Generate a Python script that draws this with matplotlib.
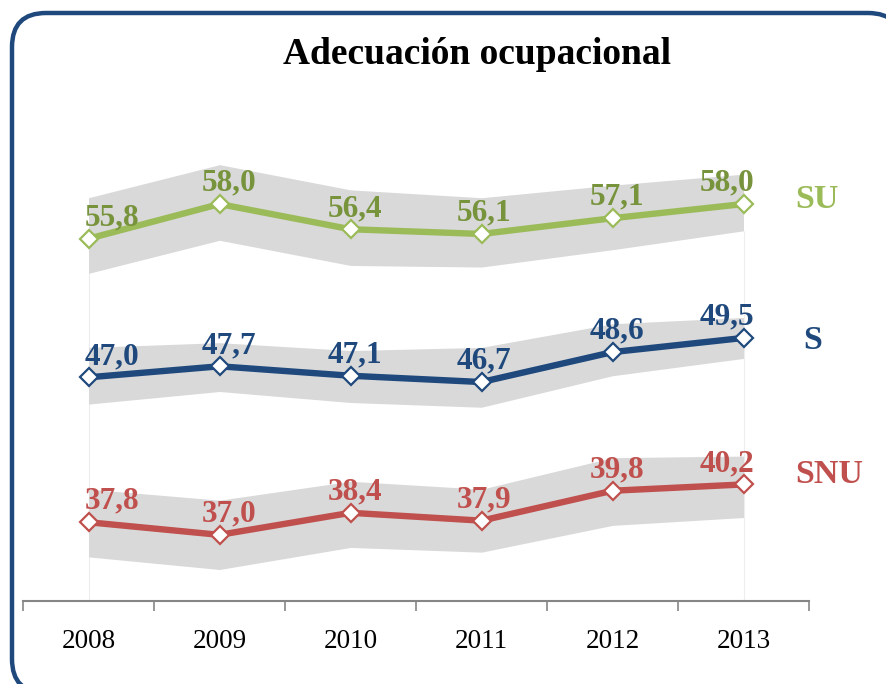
import matplotlib.pyplot as plt
from matplotlib.patches import FancyBboxPatch

years = ['2008', '2009', '2010', '2011', '2012', '2013']

su = [55.8, 58.0, 56.4, 56.1, 57.1, 58.0]
su_low = [53.6, 55.7, 54.1, 54.0, 55.1, 56.3]
su_high = [58.4, 60.5, 58.9, 58.4, 59.2, 59.9]

s = [47.0, 47.7, 47.1, 46.7, 48.6, 49.5]
s_low = [45.3, 46.1, 45.4, 45.1, 47.1, 48.2]
s_high = [48.9, 49.2, 48.7, 48.9, 50.4, 50.8]

snu = [37.8, 37.0, 38.4, 37.9, 39.8, 40.2]
snu_low = [35.6, 34.8, 36.2, 35.9, 37.6, 38.1]
snu_high = [39.9, 39.2, 40.4, 39.9, 41.9, 42.0]

names = ['SU', 'S', 'SNU']

plt.rcParams['font.family'] = ['Liberation Serif', 'DejaVu Serif']

fig = plt.figure(figsize=(8.86, 6.84), dpi=100)

# rounded frame, drawn in pixel units
bg = fig.add_axes([0, 0, 1, 1])
bg.set_xlim(0, 886)
bg.set_ylim(684, 0)
bg.axis('off')
frame = FancyBboxPatch((12, 13), 890, 680, boxstyle='round,pad=0,rounding_size=34',
                       fc='white', ec='#1F497D', lw=3.2)
bg.add_patch(frame)

ax = fig.add_axes([23 / 886, 83 / 684, 786 / 886, 471 / 684])
ax.patch.set_alpha(0)
x = list(range(len(years)))

series = [
    (su, su_low, su_high, '#9BBB59', '#77933C'),
    (s, s_low, s_high, '#1F497D', '#1F497D'),
    (snu, snu_low, snu_high, '#C0504D', '#C0504D'),
]

for vals, lo, hi, col, lab_col in series:
    ax.fill_between(x, lo, hi, color='#D9D9D9', lw=0, zorder=1)
    ax.plot(x, vals, color=col, lw=4.6, marker='D', markersize=9,
            markerfacecolor='white', markeredgecolor=col, markeredgewidth=1.6, zorder=3)

ax.vlines([0, 5], 32.8, [su_low[0], su_low[-1]], color='#EDEDED', lw=0.8, zorder=0)

# data labels
dx = [17, 7, 3.5, 2, 3, -12]
for vals, lo, hi, col, lab_col in series:
    for i, v in enumerate(vals):
        ax.annotate(f'{v:.1f}'.replace('.', ','), xy=(i, v), xytext=(dx[i], 15),
                    textcoords='offset points', ha='center', va='center',
                    fontsize=22.5, fontweight='bold', color=lab_col, zorder=4)

# series names on the right
name_offsets = [(37, 3), (43, -1.5), (37, 7)]
for name, (vals, lo, hi, col, lab_col), off in zip(names, series, name_offsets):
    ax.annotate(name, xy=(5, vals[-1]), xytext=off, textcoords='offset points',
                ha='left', va='center', fontsize=24.5, fontweight='bold', color=col)

ax.set_xlim(-0.5, 5.5)
ax.set_ylim(32.8, 62.7)
ax.set_yticks([])
for side in ['left', 'right', 'top']:
    ax.spines[side].set_visible(False)
ax.spines['bottom'].set_color('#868686')
ax.spines['bottom'].set_linewidth(1.5)

ax.set_xticks([i - 0.5 for i in range(len(years) + 1)])
ax.set_xticklabels([])
ax.tick_params(axis='x', which='major', direction='out', length=7, width=1.2, color='#868686')
ax.set_xticks(x, minor=True)
ax.set_xticklabels(years, minor=True, fontsize=19.5)
ax.tick_params(axis='x', which='minor', length=0, pad=20)

fig.text(477 / 886, 1 - 54 / 684, 'Adecuación ocupacional', ha='center', va='center',
         fontsize=27, fontweight='bold')

fig.savefig('out.png', dpi=100)
